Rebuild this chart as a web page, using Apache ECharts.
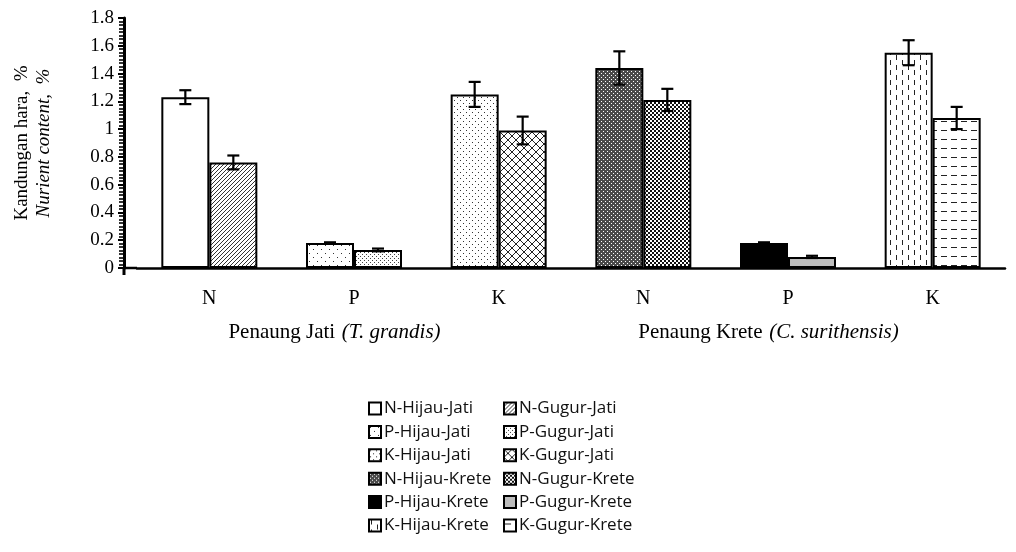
<!DOCTYPE html>
<html>
<head>
<meta charset="utf-8">
<script src="https://cdn.jsdelivr.net/npm/echarts@6/dist/echarts.min.js"></script>
<style>
  html, body { margin: 0; padding: 0; background: #fff; }
  #chart { width: 1016px; height: 552px; }
</style>
</head>
<body>
<div id="chart"></div>
<script>
// Nutrient content (%) of green (Hijau) and fallen (Gugur) leaves under two shade trees
const categories = ['N', 'P', 'K', 'N', 'P', 'K'];
const groupNames = ['Penaung Jati', 'Penaung Krete'];
const groupSpecies = ['(T. grandis)', '(C. surithensis)'];

const hijauNames = ['N-Hijau-Jati', 'P-Hijau-Jati', 'K-Hijau-Jati', 'N-Hijau-Krete', 'P-Hijau-Krete', 'K-Hijau-Krete'];
const gugurNames = ['N-Gugur-Jati', 'P-Gugur-Jati', 'K-Gugur-Jati', 'N-Gugur-Krete', 'P-Gugur-Krete', 'K-Gugur-Krete'];

const hijauValues = [1.23, 0.18, 1.25, 1.44, 0.18, 1.55];
const gugurValues = [0.76, 0.13, 0.99, 1.21, 0.08, 1.08];
const hijauErrors = [0.05, 0.005, 0.09, 0.12, 0.005, 0.09];
const gugurErrors = [0.05, 0.01, 0.10, 0.08, 0.008, 0.08];

const yMin = 0, yMax = 1.8, yStep = 0.2;

const BAR_WIDTH = 48;
const AXIS_OFFSET = 13;
const GRID_LEFT = 137;

// small repeating fill tiles
function tile(w, h, draw) {
  const c = document.createElement('canvas');
  c.width = w; c.height = h;
  const g = c.getContext('2d');
  g.fillStyle = '#fff';
  g.fillRect(0, 0, w, h);
  draw(g);
  return { image: c, repeat: 'repeat' };
}
const px = (g, x, y, w, h) => g.fillRect(x, y, w || 1, h || 1);

const hijauFills = [
  '#ffffff',
  tile(8, 8, g => { g.fillStyle = '#333'; px(g, 1, 1); px(g, 5, 5); }),
  tile(6, 6, g => { g.fillStyle = '#333'; px(g, 1, 1); px(g, 4, 4); }),
  tile(4, 4, g => { g.fillStyle = '#4a4a4a'; px(g, 0, 0, 4, 4); g.fillStyle = '#fff'; px(g, 1, 1); px(g, 3, 3); }),
  '#000000',
  tile(12, 10, g => { g.fillStyle = '#222'; px(g, 2, 0, 1, 5); px(g, 8, 5, 1, 5); })
];
const gugurFills = [
  tile(4, 4, g => { g.fillStyle = '#333'; for (let i = 0; i < 4; i++) px(g, i, 3 - i); }),
  tile(4, 4, g => { g.fillStyle = '#444'; px(g, 0, 0); px(g, 2, 2); }),
  tile(8, 8, g => { g.fillStyle = '#222'; for (let i = 0; i < 8; i++) { px(g, i, i); px(g, i, 7 - i); } }),
  tile(4, 4, g => { g.fillStyle = '#111'; px(g, 0, 0, 2, 2); px(g, 2, 2, 2, 2); }),
  '#bdbdbd',
  tile(10, 9, g => { g.fillStyle = '#222'; px(g, 1, 4, 6, 1); })
];

function onlyAt(idx, v) {
  return categories.map((_, i) => (i === idx ? v : '-'));
}

const barSeries = [];
for (let i = 0; i < categories.length; i++) {
  [[hijauNames, hijauValues, hijauFills, 'hijau'], [gugurNames, gugurValues, gugurFills, 'gugur']].forEach(([names, vals, fills, stack]) => {
    barSeries.push({
      type: 'bar',
      name: names[i],
      stack: stack,
      data: onlyAt(i, vals[i]),
      barWidth: BAR_WIDTH,
      barGap: '0%',
      itemStyle: { color: fills[i], borderColor: '#000', borderWidth: 2 },
      emphasis: { disabled: true },
      z: 2
    });
  });
}

const errorData = [];
hijauValues.forEach((v, i) => errorData.push([i, v, hijauErrors[i], -1]));
gugurValues.forEach((v, i) => errorData.push([i, v, gugurErrors[i], 1]));

const errorSeries = {
  type: 'custom',
  name: 'error',
  data: errorData,
  encode: { x: 0, y: 1 },
  z: 5,
  silent: true,
  renderItem(params, api) {
    const i = api.value(0), v = api.value(1), e = api.value(2), side = api.value(3);
    const cx = api.coord([i, v])[0] + side * BAR_WIDTH / 2;
    const top = api.coord([i, v + e])[1];
    const bot = api.coord([i, v - e])[1];
    const cap = 6;
    const st = { stroke: '#000', lineWidth: 2.2 };
    return {
      type: 'group',
      children: [
        { type: 'line', shape: { x1: cx, y1: top, x2: cx, y2: bot }, style: st },
        { type: 'line', shape: { x1: cx - cap, y1: top, x2: cx + cap, y2: top }, style: st },
        { type: 'line', shape: { x1: cx - cap, y1: bot, x2: cx + cap, y2: bot }, style: st }
      ]
    };
  }
};

const serif = '"Liberation Serif", "Times New Roman", serif';
const legendCommon = {
  orient: 'vertical',
  top: 400,
  padding: 0,
  itemWidth: 12,
  itemHeight: 12,
  itemGap: 6.4,
  icon: 'rect',
  selectedMode: false,
  itemStyle: { borderWidth: 2 },
  textStyle: { fontFamily: '"Open Sans", sans-serif', fontSize: 17, color: '#111', padding: [0, 0, 0, -2] }
};

const chart = echarts.init(document.getElementById('chart'), null, { renderer: 'canvas' });
chart.setOption({
  animation: false,
  backgroundColor: '#fff',
  grid: { left: GRID_LEFT, right: 11, top: 18, bottom: 284, containLabel: false },
  legend: [
    Object.assign({ left: 368, data: hijauNames }, legendCommon),
    Object.assign({ left: 503, data: gugurNames }, legendCommon)
  ],
  xAxis: [
    {
      type: 'category',
      data: categories,
      axisLine: { lineStyle: { color: '#000', width: 2.5 } },
      axisTick: { show: false },
      axisLabel: { color: '#000', fontFamily: serif, fontSize: 20, margin: 21 },
      splitLine: { show: false }
    },
    {
      type: 'category',
      position: 'bottom',
      data: groupNames,
      axisLine: { show: false },
      axisTick: { show: false },
      splitLine: { show: false },
      axisLabel: {
        margin: 54,
        padding: [0, 39, 0, 0],
        formatter: (val, idx) => '{n|' + val + '}  {s|' + groupSpecies[idx] + '}',
        rich: {
          n: { fontFamily: serif, fontSize: 21, color: '#000' },
          s: { fontFamily: serif, fontSize: 21, color: '#000', fontStyle: 'italic' }
        }
      }
    }
  ],
  yAxis: {
    type: 'value',
    min: yMin,
    max: yMax,
    interval: yStep,
    offset: AXIS_OFFSET,
    axisLine: { show: true, lineStyle: { color: '#000', width: 3 } },
    axisTick: { show: true, length: 6, lineStyle: { color: '#000', width: 2 } },
    minorTick: { show: true, splitNumber: 8, length: 5, lineStyle: { color: '#000', width: 1.6 } },
    axisLabel: { color: '#000', fontFamily: serif, fontSize: 19, margin: 10 },
    splitLine: { show: false },
    name: '{a|Kandungan hara,  %}\n{b|Nurient content,  %}',
    nameLocation: 'middle',
    nameGap: 70,
    nameTextStyle: {
      rich: {
        a: { fontFamily: serif, fontSize: 19, color: '#000', lineHeight: 21 },
        b: { fontFamily: serif, fontSize: 19, color: '#000', fontStyle: 'italic', lineHeight: 21 }
      }
    }
  },
  series: barSeries.concat([errorSeries])
});

// join the offset value axis to the category axis line
const base = chart.convertToPixel({ yAxisIndex: 0 }, 0);
const axisX = GRID_LEFT - AXIS_OFFSET;
chart.setOption({
  graphic: [
    { type: 'line', shape: { x1: axisX, y1: base, x2: GRID_LEFT, y2: base }, style: { stroke: '#000', lineWidth: 2.5 }, silent: true },
    { type: 'line', shape: { x1: axisX, y1: base, x2: axisX, y2: base + 7 }, style: { stroke: '#000', lineWidth: 3 }, silent: true }
  ]
});
</script>
</body>
</html>
